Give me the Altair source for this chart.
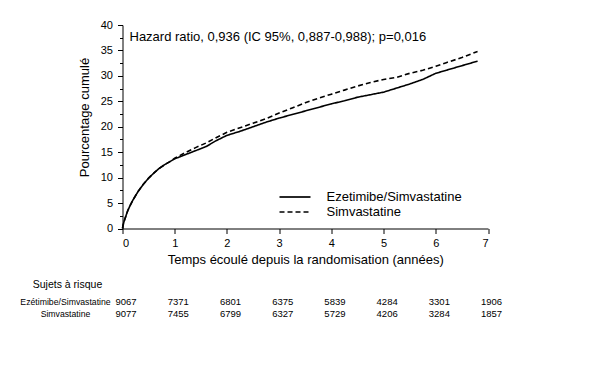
import altair as alt
import pandas as pd

# ---- data ----
times = [0, 0.01, 0.03, 0.06, 0.1, 0.15, 0.2, 0.3, 0.4, 0.5, 0.6, 0.7, 0.8, 0.9,
         1.0, 1.2, 1.4, 1.6, 1.8, 2.0, 2.25, 2.5, 2.75, 3.0, 3.25, 3.5, 3.75,
         4.0, 4.25, 4.5, 4.75, 5.0, 5.25, 5.5, 5.75, 6.0, 6.2, 6.5, 6.8]
eze_pct = [0, 0.6, 1.4, 2.3, 3.5, 4.6, 5.6, 7.3, 8.7, 9.9, 10.9, 11.8, 12.5, 13.1,
           13.7, 14.5, 15.3, 16.1, 17.3, 18.3, 19.1, 20.0, 20.9, 21.7, 22.4, 23.1, 23.8,
           24.5, 25.1, 25.8, 26.3, 26.8, 27.6, 28.4, 29.3, 30.5, 31.1, 32.0, 32.9]
simva_pct = [0, 0.6, 1.4, 2.3, 3.5, 4.6, 5.6, 7.3, 8.7, 9.9, 10.9, 11.8, 12.5, 13.1,
             13.8, 14.9, 15.9, 16.8, 17.9, 18.9, 19.8, 20.7, 21.6, 22.7, 23.7, 24.7, 25.6,
             26.4, 27.2, 28.0, 28.7, 29.3, 29.7, 30.5, 31.1, 31.9, 32.6, 33.6, 34.8]

series = ["Ezetimibe/Simvastatine", "Simvastatine"]

risk_years = [0, 1, 2, 3, 4, 5, 6, 7]
risk_eze = [9067, 7371, 6801, 6375, 5839, 4284, 3301, 1906]
risk_simva = [9077, 7455, 6799, 6327, 5729, 4206, 3284, 1857]

x_ticks = [i * 0.5 for i in range(15)]
y_ticks = [i * 2.5 for i in range(17)]

annotation = "Hazard ratio, 0,936 (IC 95%, 0,887-0,988); p=0,016"

FONT = "Liberation Sans"

curves = pd.DataFrame(
    {"t": times + times,
     "pct": eze_pct + simva_pct,
     "groupe": [series[0]] * len(times) + [series[1]] * len(times)}
)
risk = pd.DataFrame({"t": risk_years, "eze": [str(v) for v in risk_eze],
                     "simva": [str(v) for v in risk_simva]})
one = pd.DataFrame({"k": [0]})

x_enc = alt.X(
    "t:Q",
    scale=alt.Scale(domain=[0, 7], nice=False),
    axis=alt.Axis(
        title="Temps écoulé depuis la randomisation (années)",
        values=x_ticks,
        labelExpr="datum.value % 1 === 0 ? format(datum.value, 'd') : ''",
        tickSize={"condition": {"test": "datum.value % 1 === 0", "value": 5}, "value": 3},
        labelPadding=4,
        titleBaseline="middle",
        titleY=31,
        grid=False,
    ),
)
y_enc = alt.Y(
    "pct:Q",
    scale=alt.Scale(domain=[0, 40], nice=False),
    axis=alt.Axis(
        title="Pourcentage cumulé",
        values=y_ticks,
        labelExpr="datum.value % 5 === 0 ? format(datum.value, 'd') : ''",
        tickSize={"condition": {"test": "datum.value % 5 === 0", "value": 5}, "value": 3},
        labelPadding=5,
        titleBaseline="middle",
        titleX=-38,
        titleY=92,
        grid=False,
    ),
)

lines = alt.Chart(curves).mark_line(color="black", strokeWidth=1.6).encode(
    x=x_enc,
    y=y_enc,
    strokeDash=alt.StrokeDash(
        "groupe:N",
        scale=alt.Scale(domain=series, range=[[1, 0], [5, 3]]),
        legend=None,
    ),
)

note = alt.Chart(one).mark_text(
    align="left", baseline="middle", fontSize=13, font=FONT, color="black"
).encode(x=alt.value(7), y=alt.value(12), text=alt.value(annotation))

leg_solid = alt.Chart(one).mark_rule(color="black", strokeWidth=1.7).encode(
    x=alt.value(157), x2=alt.value(188), y=alt.value(172))
leg_dash = alt.Chart(one).mark_rule(color="black", strokeWidth=1.7, strokeDash=[5, 3]).encode(
    x=alt.value(157), x2=alt.value(188), y=alt.value(187))
leg_t1 = alt.Chart(one).mark_text(
    align="left", baseline="middle", fontSize=13, font=FONT, color="black"
).encode(x=alt.value(204), y=alt.value(172), text=alt.value(series[0]))
leg_t2 = alt.Chart(one).mark_text(
    align="left", baseline="middle", fontSize=13, font=FONT, color="black"
).encode(x=alt.value(204), y=alt.value(187), text=alt.value(series[1]))

hdr = alt.Chart(one).mark_text(
    align="center", baseline="middle", fontSize=10.5, font=FONT, color="black"
).encode(x=alt.value(-55), y=alt.value(260), text=alt.value("Sujets à risque"))
lab1 = alt.Chart(one).mark_text(
    align="center", baseline="middle", fontSize=8.7, font=FONT, color="black"
).encode(x=alt.value(-57), y=alt.value(277), text=alt.value("Ezétimibe/Simvastatine"))
lab2 = alt.Chart(one).mark_text(
    align="center", baseline="middle", fontSize=8.7, font=FONT, color="black"
).encode(x=alt.value(-57), y=alt.value(289), text=alt.value("Simvastatine"))

num1 = alt.Chart(risk).mark_text(
    align="left", baseline="middle", dx=-7, fontSize=9.5, font=FONT, color="black"
).encode(x=alt.X("t:Q"), y=alt.value(277), text="eze:N")
num2 = alt.Chart(risk).mark_text(
    align="left", baseline="middle", dx=-7, fontSize=9.5, font=FONT, color="black"
).encode(x=alt.X("t:Q"), y=alt.value(289), text="simva:N")

chart = alt.layer(
    lines, note, leg_solid, leg_dash, leg_t1, leg_t2, hdr, lab1, lab2, num1, num2
).properties(
    width=365.5,
    height=203.5,
    padding={"left": 114.5, "top": 17, "right": 100, "bottom": 110},
    autosize=alt.AutoSizeParams(type="none"),
).configure_view(stroke=None).configure_axis(
    domainColor="black",
    tickColor="black",
    labelColor="black",
    titleColor="black",
    labelFont=FONT,
    titleFont=FONT,
    labelFontSize=11,
    titleFontSize=13,
    titleFontWeight="normal",
    domainWidth=1,
    tickWidth=1,
)

chart.save("out.html", embed_options={"renderer": "svg", "actions": False})
